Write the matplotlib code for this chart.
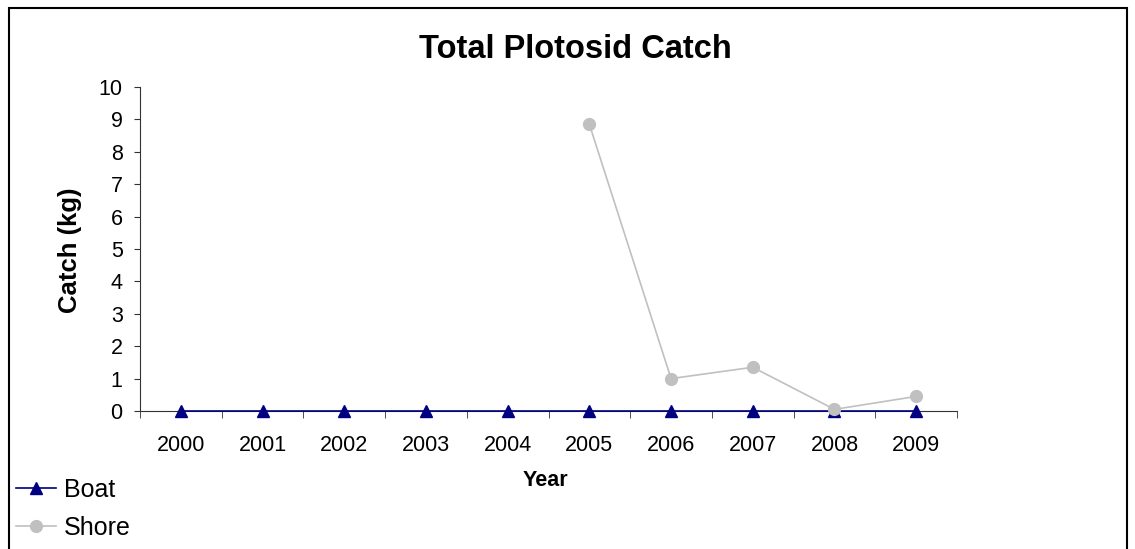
import numpy as np
import matplotlib.pyplot as plt
from matplotlib.patches import Rectangle

# 데이터
years = ['2000', '2001', '2002', '2003', '2004', '2005', '2006', '2007', '2008', '2009']
boat = [0, 0, 0, 0, 0, 0, 0, 0, 0, 0]
shore = [np.nan, np.nan, np.nan, np.nan, np.nan, 8.85, 1.0, 1.35, 0.05, 0.45]

plt.rcParams['font.family'] = ['Liberation Sans', 'DejaVu Sans']

fig = plt.figure(figsize=(11.35, 5.49), dpi=100)
ax = fig.add_axes([140 / 1135, 1 - 411 / 549, 817 / 1135, 324 / 549])

x = np.arange(len(years))
ax.plot(x, boat, color='#000080', lw=1.2, marker='^', markersize=9, label='Boat', zorder=3,
        clip_on=False)
ax.plot(x, shore, color='#C0C0C0', lw=1.2, marker='o', markersize=8.5, label='Shore', zorder=4,
        clip_on=False)

ax.set_xlim(-0.5, len(years) - 0.5)
ax.set_ylim(0, 10)
ax.set_yticks(range(0, 11))
ax.set_xticks(x)
ax.set_xticklabels(years)
ax.set_xticks(np.arange(-0.5, len(years)), minor=True)
ax.tick_params(axis='x', which='major', length=0, pad=17, labelsize=15.5)
ax.tick_params(axis='x', which='minor', length=5, direction='out', color='#333333')
ax.tick_params(axis='y', length=4.5, direction='out', labelsize=15.5, pad=8, color='#333333')

for s in ['top', 'right']:
    ax.spines[s].set_visible(False)
ax.spines['left'].set_color('#333333')
ax.spines['bottom'].set_color('#333333')

# 제목, 축 이름
fig.text(575 / 1135, 1 - 49 / 549, 'Total Plotosid Catch', fontsize=23.5, fontweight='bold',
         ha='center', va='center')
fig.text(70 / 1135, 1 - 250 / 549, 'Catch (kg)', fontsize=18.5, fontweight='bold',
         ha='center', va='center', rotation=90)
fig.text(545 / 1135, 1 - 480 / 549, 'Year', fontsize=15.5, fontweight='bold',
         ha='center', va='center')

fig.legend(loc='upper left', bbox_to_anchor=(6 / 1135, 1 - 468 / 549), frameon=False,
           fontsize=18, handlelength=1.6, handletextpad=0.3, labelspacing=0.55,
           borderaxespad=0)

# 외곽 테두리
fig.patches.append(Rectangle((9 / 1135, -0.1), 1118 / 1135, 1.1 - 8 / 549,
                             transform=fig.transFigure, fill=False, edgecolor='black', lw=1.5))

fig.savefig('out.png', dpi=100)
